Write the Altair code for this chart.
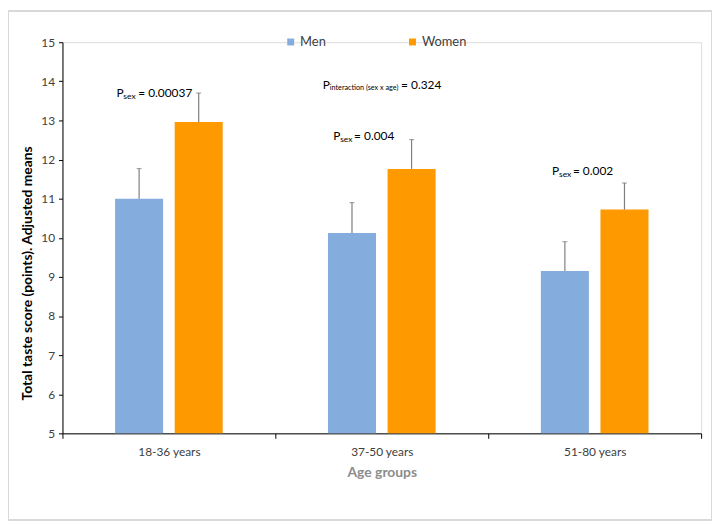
import altair as alt
import pandas as pd

groups = ["18-36 years", "37-50 years", "51-80 years"]
sexes = ["Men", "Women"]
men_means = [11.0, 10.12, 9.15]
women_means = [12.96, 11.76, 10.72]
men_upper = [11.77, 10.90, 9.90]
women_upper = [13.70, 12.51, 11.40]
colors = ["#84ACDC", "#FF9900"]
y_ticks = [5, 6, 7, 8, 9, 10, 11, 12, 13, 14, 15]

# annotations: group, y, subscript, value text, x offset of "P" from band centre
ann_groups = ["18-36 years", "37-50 years", "37-50 years", "51-80 years"]
ann_y = [13.70, 13.91, 12.59, 11.71]
ann_sub = ["sex", "interaction (sex x age)", "sex", "sex"]
ann_val = ["= 0.00037", "= 0.324", "= 0.004", "= 0.002"]
ann_dx = [-53, -59.5, -49, -43]
ann_subsize = [8.5, 7.3, 8.5, 8.5]
ann_valdx = [22, 79, 21, 21]

rows = []
for i, g in enumerate(groups):
    rows.append({"group": g, "sex": "Men", "mean": men_means[i], "upper": men_upper[i]})
    rows.append({"group": g, "sex": "Women", "mean": women_means[i], "upper": women_upper[i]})
df = pd.DataFrame(rows)

FONT = "Lato"
W, H = 645, 395

x_axis = alt.Axis(labelAngle=0, labelFontSize=12, labelColor="#404040", labelFont=FONT,
                  labelPadding=8, tickBand="extent", tickSize=5, tickColor="#000000",
                  domainColor="#000000", titleFontSize=14, titleFont=FONT,
                  titleFontWeight="bold", titleColor="#8c8c8c", titlePadding=9)
y_axis = alt.Axis(values=y_ticks, grid=False, tickSize=4, tickColor="#000000",
                  domainColor="#000000", labelFontSize=12, labelColor="#404040",
                  labelFont=FONT, labelPadding=4, labelOverlap=False, titleFont=FONT,
                  titleFontSize=14, titleFontWeight="bold", titleColor="#000000",
                  titleAngle=-90, titleX=-35, titleY=233, titleAlign="center",
                  titleBaseline="middle")
Y_TITLE = "Total taste score (points). Adjusted means"
X_TITLE = "Age groups"
y_scale = alt.Scale(domain=[5, 15], nice=False, zero=False)
x_scale = alt.Scale(paddingInner=0, paddingOuter=0)


def xe():
    return alt.X("group:N", sort=groups, title=X_TITLE, scale=x_scale, axis=x_axis)


def ye(field):
    return alt.Y(field, scale=y_scale, title=Y_TITLE, axis=y_axis)


xoff = alt.XOffset("sex:N", sort=sexes, scale=alt.Scale(paddingInner=0.194, paddingOuter=0.883))

base = alt.Chart(df)

bars = base.mark_bar(size=48.5).encode(
    x=xe(),
    xOffset=xoff,
    y=ye("mean:Q"),
    y2=alt.datum(5),
    color=alt.Color("sex:N", sort=sexes, scale=alt.Scale(domain=sexes, range=colors),
                    legend=alt.Legend(title=None, orient="none", direction="horizontal",
                                      legendX=224, legendY=-7, symbolType="square",
                                      symbolSize=49, symbolStrokeWidth=0, labelFont=FONT,
                                      labelFontSize=13, labelColor="#404040", columnPadding=81,
                                      labelOffset=3)),
)

err = base.mark_rule(color="#7f7f7f", strokeWidth=1.2).encode(
    x=xe(), xOffset=xoff, y=ye("mean:Q"), y2="upper:Q")
caps = base.mark_tick(color="#7f7f7f", size=5, thickness=1.2, orient="horizontal").encode(
    x=xe(), xOffset=xoff, y=ye("upper:Q"))

layers = [bars, err, caps]
for i in range(len(ann_groups)):
    d = pd.DataFrame({"group": [ann_groups[i]], "y": [ann_y[i]]})
    enc = dict(x=xe(), y=ye("y:Q"))
    layers.append(alt.Chart(d).mark_text(text="P", align="left", baseline="middle", dx=ann_dx[i],
                                         font=FONT, fontSize=12, color="#000000").encode(**enc))
    layers.append(alt.Chart(d).mark_text(text=ann_sub[i], align="left", baseline="middle",
                                         dx=ann_dx[i] + 7, dy=3, font=FONT,
                                         fontSize=ann_subsize[i],
                                         color="#000000").encode(**enc))
    layers.append(alt.Chart(d).mark_text(text=ann_val[i], align="left", baseline="middle",
                                         dx=ann_dx[i] + ann_valdx[i], font=FONT, fontSize=12,
                                         color="#000000").encode(**enc))

border = alt.Chart(df).mark_rect(fill=None, stroke="#d9d9d9", strokeWidth=1).encode(
    x=alt.value(-54.5), x2=alt.value(W + 10.5), y=alt.value(-31.5), y2=alt.value(H + 87.5))
layers.append(border)

chart = alt.layer(*layers).properties(
    width=W, height=H,
    autosize=alt.AutoSizeParams(type="none"),
    padding={"left": 55, "top": 32, "right": 12, "bottom": 89},
).configure_view(stroke=None).configure(background="white")

chart.save("out.html", embed_options={"renderer": "svg", "actions": False})
